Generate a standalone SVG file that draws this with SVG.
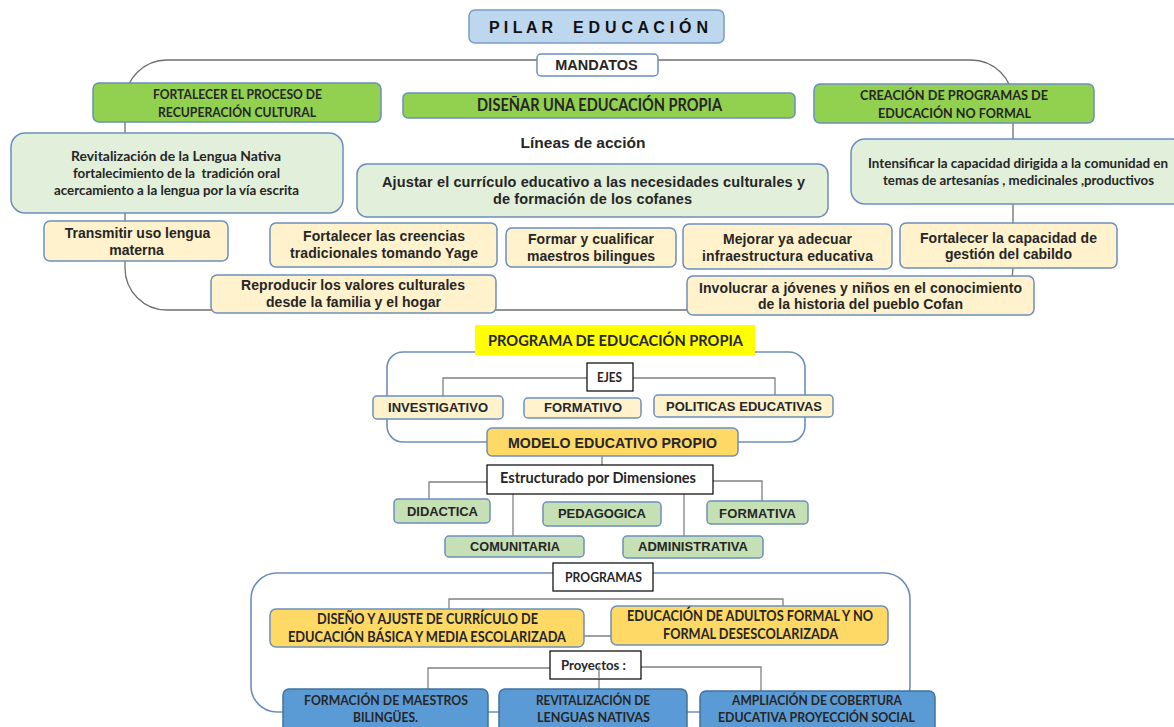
<svg xmlns="http://www.w3.org/2000/svg" width="1174" height="727" viewBox="0 0 1174 727">
<style>
.a{font-family:"Liberation Sans",Arial,sans-serif;font-weight:bold;fill:#262626;text-anchor:middle}
.c{font-family:Lato,"Open Sans",sans-serif;font-weight:bold;fill:#262626;text-anchor:middle}
.nb{stroke:#6C8EBF;stroke-width:1.5}
.green{fill:#92D050}
.lg{fill:#E2EFDA}
.cream{fill:#FFF2CC}
.gold{fill:#FFD966}
.dim{fill:#C5E0B4}
.blue{fill:#5B9BD5;stroke:#41719C;stroke-width:1.5}
.wb{fill:#fff;stroke:#000;stroke-width:1.2}
.ln{fill:none;stroke:#808080;stroke-width:1.3}
</style>
<rect width="1174" height="727" fill="#fff"/>
<g id="connectors">
<rect x="125" y="60" width="888" height="250" rx="42" fill="none" stroke="#6F6F6F" stroke-width="1.3"/>
<rect x="387" y="352" width="418" height="90" rx="16" fill="none" stroke="#6C8EBF" stroke-width="1.6"/>
<rect x="251" y="573" width="659" height="139" rx="26" fill="none" stroke="#6C8EBF" stroke-width="1.6"/>
<path class="ln" d="M587,378H443V396M633,378H775V395"/>
<path class="ln" d="M602,456V465"/>
<path class="ln" d="M487,482H429V499M713,481H762V501M513,494V536M684,494V536"/>
<path class="ln" d="M449,609V599H783V606M584,636H611"/>
<path class="ln" d="M550,668H428V689M641,667H761V691M599,666V689"/>
</g>
<g id="title">
<rect x="469" y="10" width="255" height="33" rx="6" fill="#BDD7EE" stroke="#7A9CC6" stroke-width="1.5"/>
<text class="a" x="489" y="33" font-size="16" style="text-anchor:start;fill:#111" textLength="64" lengthAdjust="spacing">P I L A R</text>
<text class="a" x="573" y="33" font-size="16" style="text-anchor:start;fill:#111" textLength="135" lengthAdjust="spacing">E D U C A C I Ó N</text>
</g>
<g id="mandatos">
<rect x="537" y="54" width="121" height="22" rx="4" fill="#fff" class="nb"/>
<text class="a" x="596.5" y="70" font-size="14.5">MANDATOS</text>
</g>
<g id="m1">
<rect x="93" y="83" width="288" height="39" rx="6" class="green nb"/>
<text class="c" x="237.5" y="99" font-size="13.2" textLength="169" lengthAdjust="spacingAndGlyphs">FORTALECER EL PROCESO DE</text>
<text class="c" x="237" y="117" font-size="13.2" textLength="158" lengthAdjust="spacingAndGlyphs">RECUPERACIÓN CULTURAL</text>
</g>
<g id="m2">
<rect x="403" y="93" width="392" height="25" rx="5" class="green nb"/>
<text class="c" x="599.5" y="111" font-size="16.5" textLength="245" lengthAdjust="spacingAndGlyphs">DISEÑAR UNA EDUCACIÓN PROPIA</text>
</g>
<g id="m3">
<rect x="814" y="84" width="280" height="39" rx="6" class="green nb"/>
<text class="c" x="954" y="100" font-size="13.2" textLength="188" lengthAdjust="spacingAndGlyphs">CREACIÓN DE PROGRAMAS DE</text>
<text class="c" x="954.5" y="118" font-size="13.2" textLength="153" lengthAdjust="spacingAndGlyphs">EDUCACIÓN NO FORMAL</text>
</g>
<g id="lineas">
<text class="a" x="583" y="148" font-size="15.5">Líneas de acción</text>
</g>
<g id="revitalizacion">
<rect x="11" y="133" width="332" height="80" rx="14" class="lg nb"/>
<text class="c" x="176" y="160.5" font-size="13.6" textLength="210" lengthAdjust="spacingAndGlyphs">Revitalización de la Lengua Nativa</text>
<text class="c" x="176.5" y="177.5" font-size="13.6" textLength="207" lengthAdjust="spacingAndGlyphs" xml:space="preserve">fortalecimiento de la  tradición oral</text>
<text class="c" x="176.5" y="194.5" font-size="13.6" textLength="245" lengthAdjust="spacingAndGlyphs">acercamiento a la lengua por la vía escrita</text>
</g>
<g id="ajustar">
<rect x="357" y="164" width="471" height="53" rx="10" class="lg nb"/>
<text class="a" x="593.5" y="187" font-size="14.5" textLength="423" lengthAdjust="spacing">Ajustar el currículo educativo a las necesidades culturales y</text>
<text class="a" x="592.5" y="204" font-size="14.5" textLength="199" lengthAdjust="spacing">de formación de los cofanes</text>
</g>
<g id="intensificar">
<rect x="851" y="139" width="335" height="65" rx="14" class="lg nb"/>
<text class="c" x="1018" y="168" font-size="13.2" textLength="300" lengthAdjust="spacingAndGlyphs">Intensificar la capacidad dirigida a la comunidad en</text>
<text class="c" x="1018.5" y="185" font-size="13.2" textLength="271" lengthAdjust="spacingAndGlyphs">temas de artesanías , medicinales ,productivos</text>
</g>
<g id="transmitir">
<rect x="44" y="221" width="184" height="40" rx="6" class="cream nb"/>
<text class="a" x="137.5" y="238" font-size="14">Transmitir uso lengua</text>
<text class="a" x="136.5" y="255" font-size="14">materna</text>
</g>
<g id="creencias">
<rect x="270" y="223" width="227" height="44" rx="6" class="cream nb"/>
<text class="a" x="384" y="241" font-size="14" textLength="162" lengthAdjust="spacing">Fortalecer las creencias</text>
<text class="a" x="384" y="258" font-size="14" textLength="188" lengthAdjust="spacing">tradicionales tomando Yage</text>
</g>
<g id="formar">
<rect x="506" y="228" width="170" height="39" rx="6" class="cream nb"/>
<text class="a" x="591" y="244" font-size="14" textLength="126" lengthAdjust="spacing">Formar y cualificar</text>
<text class="a" x="591" y="261" font-size="14" textLength="128" lengthAdjust="spacing">maestros bilingues</text>
</g>
<g id="mejorar">
<rect x="683" y="224" width="209" height="45" rx="6" class="cream nb"/>
<text class="a" x="787.5" y="244" font-size="14" textLength="129" lengthAdjust="spacing">Mejorar ya adecuar</text>
<text class="a" x="787.5" y="261" font-size="14" textLength="171" lengthAdjust="spacing">infraestructura educativa</text>
</g>
<g id="cabildo">
<rect x="900" y="223" width="217" height="45" rx="6" class="cream nb"/>
<text class="a" x="1008.5" y="243" font-size="14" textLength="177" lengthAdjust="spacing">Fortalecer la capacidad de</text>
<text class="a" x="1008.5" y="259" font-size="14" textLength="127" lengthAdjust="spacing">gestión del cabildo</text>
</g>
<g id="reproducir">
<rect x="211" y="275" width="285" height="38" rx="6" class="cream nb"/>
<text class="a" x="353" y="290" font-size="14" textLength="224" lengthAdjust="spacing">Reproducir los valores culturales</text>
<text class="a" x="353.5" y="307" font-size="14" textLength="175" lengthAdjust="spacing">desde la familia y el hogar</text>
</g>
<g id="involucrar">
<rect x="687" y="276" width="347" height="39" rx="6" class="cream nb"/>
<text class="a" x="860.5" y="293" font-size="14" textLength="323" lengthAdjust="spacing">Involucrar a jóvenes y niños en el conocimiento</text>
<text class="a" x="860.5" y="308.5" font-size="14" textLength="205" lengthAdjust="spacing">de la historia del pueblo Cofan</text>
</g>
<g id="programa">
<rect x="475" y="325" width="280" height="30" fill="#FFFF00"/>
<text class="c" x="615.5" y="346" font-size="15.5" textLength="255" lengthAdjust="spacingAndGlyphs">PROGRAMA DE EDUCACIÓN PROPIA</text>
</g>
<g id="ejes">
<rect x="587" y="363" width="46" height="28" class="wb"/>
<text class="c" x="609.5" y="382" font-size="12.5" textLength="25" lengthAdjust="spacingAndGlyphs">EJES</text>
</g>
<g id="investigativo">
<rect x="373" y="396" width="130" height="23" rx="4" class="cream nb"/>
<text class="a" x="438" y="412" font-size="13" textLength="100" lengthAdjust="spacing">INVESTIGATIVO</text>
</g>
<g id="formativo">
<rect x="524" y="398" width="117" height="20" rx="4" class="cream nb"/>
<text class="a" x="583" y="412" font-size="13" textLength="78" lengthAdjust="spacing">FORMATIVO</text>
</g>
<g id="politicas">
<rect x="654" y="395" width="179" height="22" rx="4" class="cream nb"/>
<text class="a" x="744" y="411" font-size="13" textLength="156" lengthAdjust="spacing">POLITICAS EDUCATIVAS</text>
</g>
<g id="modelo">
<rect x="487" y="428" width="251" height="28" rx="5" class="gold nb"/>
<text class="a" x="612.5" y="448" font-size="14.2" textLength="209" lengthAdjust="spacing">MODELO EDUCATIVO PROPIO</text>
</g>
<g id="estructurado">
<rect x="487" y="465" width="226" height="29" class="wb"/>
<text class="c" x="598" y="483" font-size="14.2" textLength="196" lengthAdjust="spacingAndGlyphs">Estructurado por Dimensiones</text>
</g>
<g id="didactica">
<rect x="394" y="499" width="96" height="24" rx="4" class="dim nb"/>
<text class="a" x="442.5" y="516" font-size="13" textLength="71" lengthAdjust="spacing">DIDACTICA</text>
</g>
<g id="pedagogica">
<rect x="543" y="502" width="118" height="24" rx="4" class="dim nb"/>
<text class="a" x="602" y="518" font-size="13" textLength="88" lengthAdjust="spacing">PEDAGOGICA</text>
</g>
<g id="formativa">
<rect x="707" y="501" width="101" height="23" rx="4" class="dim nb"/>
<text class="a" x="757.5" y="518" font-size="13" textLength="77" lengthAdjust="spacing">FORMATIVA</text>
</g>
<g id="comunitaria">
<rect x="445" y="536" width="139" height="21" rx="4" class="dim nb"/>
<text class="a" x="515" y="551" font-size="12.7" textLength="90" lengthAdjust="spacing">COMUNITARIA</text>
</g>
<g id="administrativa">
<rect x="623" y="536" width="140" height="22" rx="4" class="dim nb"/>
<text class="a" x="693" y="551" font-size="13" textLength="110" lengthAdjust="spacing">ADMINISTRATIVA</text>
</g>
<g id="programas">
<rect x="553" y="563" width="100" height="28" class="wb"/>
<text class="c" x="603.5" y="582" font-size="13.2" textLength="77" lengthAdjust="spacingAndGlyphs">PROGRAMAS</text>
</g>
<g id="diseno">
<rect x="270" y="609" width="314" height="38" rx="6" class="gold nb"/>
<text class="c" x="427.5" y="624" font-size="15" textLength="221" lengthAdjust="spacingAndGlyphs">DISEÑO Y AJUSTE DE CURRÍCULO DE</text>
<text class="c" x="427" y="642" font-size="15" textLength="278" lengthAdjust="spacingAndGlyphs">EDUCACIÓN BÁSICA Y MEDIA ESCOLARIZADA</text>
</g>
<g id="adultos">
<rect x="611" y="606" width="277" height="39" rx="6" class="gold nb"/>
<text class="c" x="750" y="621" font-size="15" textLength="246" lengthAdjust="spacingAndGlyphs">EDUCACIÓN DE ADULTOS FORMAL Y NO</text>
<text class="c" x="750.5" y="639" font-size="15" textLength="175" lengthAdjust="spacingAndGlyphs">FORMAL DESESCOLARIZADA</text>
</g>
<g id="proyectos">
<rect x="550" y="651" width="91" height="28" class="wb"/>
<text class="c" x="593.5" y="670" font-size="13.2" textLength="65" lengthAdjust="spacingAndGlyphs">Proyectos :</text>
<path class="ln" d="M599,666V679"/>
</g>
<g id="formacion">
<rect x="283" y="689" width="205" height="50" rx="6" class="blue"/>
<text class="c" x="386" y="705" font-size="13.2" textLength="164" lengthAdjust="spacingAndGlyphs">FORMACIÓN DE MAESTROS</text>
<text class="c" x="385.5" y="722" font-size="13.2" textLength="65" lengthAdjust="spacingAndGlyphs">BILINGÜES.</text>
</g>
<g id="lenguas">
<rect x="499" y="689" width="188" height="50" rx="6" class="blue"/>
<text class="c" x="593" y="705" font-size="13.2" textLength="114" lengthAdjust="spacingAndGlyphs">REVITALIZACIÓN DE</text>
<text class="c" x="593.5" y="722" font-size="13.2" textLength="113" lengthAdjust="spacingAndGlyphs">LENGUAS NATIVAS</text>
</g>
<g id="cobertura">
<rect x="700" y="691" width="235" height="50" rx="6" class="blue"/>
<text class="c" x="817" y="705" font-size="13.2" textLength="170" lengthAdjust="spacingAndGlyphs">AMPLIACIÓN DE COBERTURA</text>
<text class="c" x="816.5" y="722" font-size="13.2" textLength="197" lengthAdjust="spacingAndGlyphs">EDUCATIVA PROYECCIÓN SOCIAL</text>
</g>
</svg>
